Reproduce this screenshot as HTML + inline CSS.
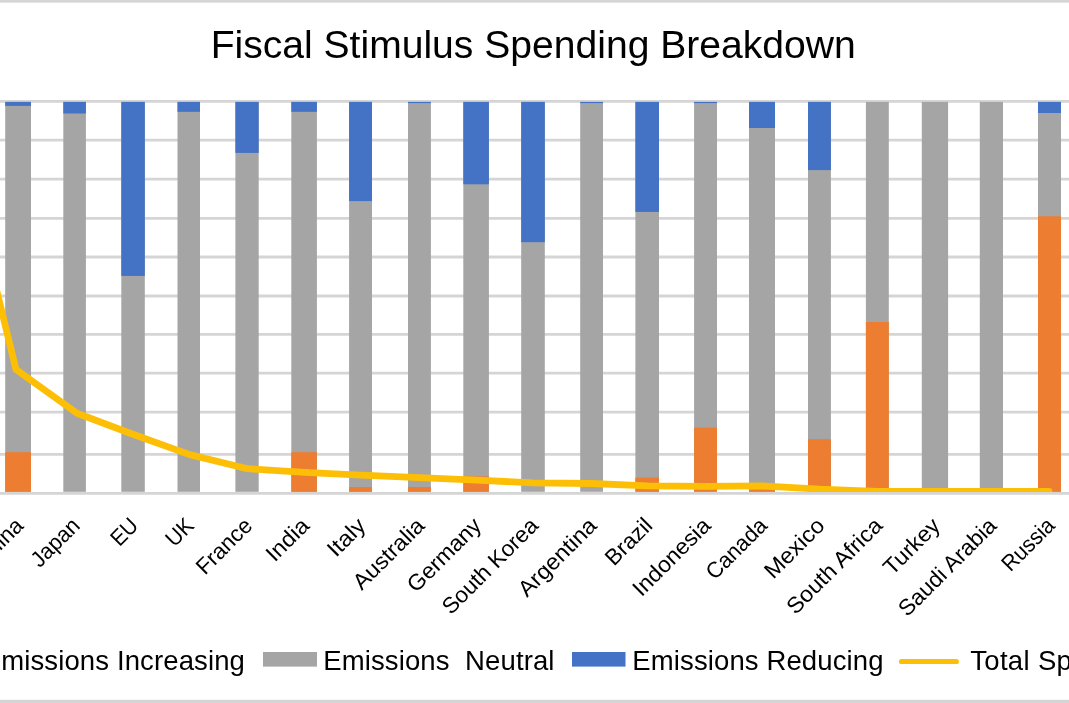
<!DOCTYPE html>
<html lang="en">
<head>
<meta charset="utf-8">
<title>Fiscal Stimulus Spending Breakdown</title>
<style>
html,body{margin:0;padding:0;background:#fff;}
body{width:1069px;height:703px;overflow:hidden;}
svg{display:block;}
text{font-family:"Liberation Sans",Arial,sans-serif;fill:#000;}
.title{font-size:39.1px;}
.leg{font-size:27.5px;letter-spacing:0.12px;}
.lab{font-size:22.4px;}
</style>
</head>
<body>
<svg width="1069" height="703" viewBox="0 0 1069 703">
<rect x="0" y="0" width="1069" height="703" fill="#ffffff"/>
<rect x="0" y="0" width="1069" height="2.6" fill="#d5d5d5"/>
<rect x="0" y="699.8" width="1069" height="3.2" fill="#d5d5d5"/>
<text class="title" x="533.2" y="57.6" text-anchor="middle">Fiscal Stimulus Spending Breakdown</text>
<g stroke="#d5d5d5" stroke-width="2.8" fill="none">
<line x1="0" y1="101.4" x2="1069" y2="101.4"/>
<line x1="0" y1="140.1" x2="1069" y2="140.1"/>
<line x1="0" y1="179.2" x2="1069" y2="179.2"/>
<line x1="0" y1="218.3" x2="1069" y2="218.3"/>
<line x1="0" y1="257.0" x2="1069" y2="257.0"/>
<line x1="0" y1="296.0" x2="1069" y2="296.0"/>
<line x1="0" y1="334.3" x2="1069" y2="334.3"/>
<line x1="0" y1="373.2" x2="1069" y2="373.2"/>
<line x1="0" y1="412.1" x2="1069" y2="412.1"/>
<line x1="0" y1="454.4" x2="1069" y2="454.4"/>
<line x1="0" y1="493.4" x2="1069" y2="493.4"/>
</g>
<g>
<rect x="5.2" y="101.9" width="25.8" height="389.9" fill="#a5a5a5"/><rect x="5.2" y="101.9" width="25.8" height="4.0" fill="#4472c4"/><rect x="5.2" y="452.2" width="25.8" height="39.6" fill="#ed7d31"/>
<rect x="63.3" y="101.9" width="22.6" height="389.9" fill="#a5a5a5"/><rect x="63.3" y="101.9" width="22.6" height="11.6" fill="#4472c4"/>
<rect x="121.3" y="101.9" width="23.5" height="389.9" fill="#a5a5a5"/><rect x="121.3" y="101.9" width="23.5" height="174.0" fill="#4472c4"/>
<rect x="177.5" y="101.9" width="22.5" height="389.9" fill="#a5a5a5"/><rect x="177.5" y="101.9" width="22.5" height="9.9" fill="#4472c4"/>
<rect x="235.4" y="101.9" width="23.3" height="389.9" fill="#a5a5a5"/><rect x="235.4" y="101.9" width="23.3" height="51.0" fill="#4472c4"/>
<rect x="291.3" y="101.9" width="25.6" height="389.9" fill="#a5a5a5"/><rect x="291.3" y="101.9" width="25.6" height="9.9" fill="#4472c4"/><rect x="291.3" y="452.2" width="25.6" height="39.6" fill="#ed7d31"/>
<rect x="349.1" y="101.9" width="22.9" height="389.9" fill="#a5a5a5"/><rect x="349.1" y="101.9" width="22.9" height="99.2" fill="#4472c4"/><rect x="349.1" y="487.0" width="22.9" height="4.8" fill="#ed7d31"/>
<rect x="408.0" y="101.9" width="22.9" height="389.9" fill="#a5a5a5"/><rect x="408.0" y="101.9" width="22.9" height="1.2" fill="#4472c4"/><rect x="408.0" y="487.0" width="22.9" height="4.8" fill="#ed7d31"/>
<rect x="463.3" y="101.9" width="25.6" height="389.9" fill="#a5a5a5"/><rect x="463.3" y="101.9" width="25.6" height="82.4" fill="#4472c4"/><rect x="463.3" y="476.3" width="25.6" height="15.5" fill="#ed7d31"/>
<rect x="521.2" y="101.9" width="23.6" height="389.9" fill="#a5a5a5"/><rect x="521.2" y="101.9" width="23.6" height="140.3" fill="#4472c4"/>
<rect x="580.2" y="101.9" width="22.8" height="389.9" fill="#a5a5a5"/><rect x="580.2" y="101.9" width="22.8" height="1.2" fill="#4472c4"/>
<rect x="635.4" y="101.9" width="23.6" height="389.9" fill="#a5a5a5"/><rect x="635.4" y="101.9" width="23.6" height="110.0" fill="#4472c4"/><rect x="635.4" y="477.6" width="23.6" height="14.2" fill="#ed7d31"/>
<rect x="694.1" y="101.9" width="22.9" height="389.9" fill="#a5a5a5"/><rect x="694.1" y="101.9" width="22.9" height="1.2" fill="#4472c4"/><rect x="694.1" y="427.6" width="22.9" height="64.2" fill="#ed7d31"/>
<rect x="749.0" y="101.9" width="26.0" height="389.9" fill="#a5a5a5"/><rect x="749.0" y="101.9" width="26.0" height="26.1" fill="#4472c4"/><rect x="749.0" y="490.0" width="26.0" height="1.8" fill="#ed7d31"/>
<rect x="808.0" y="101.9" width="22.9" height="389.9" fill="#a5a5a5"/><rect x="808.0" y="101.9" width="22.9" height="68.2" fill="#4472c4"/><rect x="808.0" y="439.2" width="22.9" height="52.6" fill="#ed7d31"/>
<rect x="865.9" y="101.9" width="22.9" height="389.9" fill="#a5a5a5"/><rect x="865.9" y="322.0" width="22.9" height="169.8" fill="#ed7d31"/>
<rect x="921.8" y="101.9" width="26.3" height="389.9" fill="#a5a5a5"/>
<rect x="979.8" y="101.9" width="23.2" height="389.9" fill="#a5a5a5"/><rect x="979.8" y="488.5" width="23.2" height="3.3" fill="#ed7d31"/>
<rect x="1038.0" y="101.9" width="23.0" height="389.9" fill="#a5a5a5"/><rect x="1038.0" y="101.9" width="23.0" height="11.1" fill="#4472c4"/><rect x="1038.0" y="216.3" width="23.0" height="275.5" fill="#ed7d31"/>
</g>
<defs><clipPath id="plot"><rect x="0" y="90" width="1069" height="402.1"/></clipPath></defs>
<polyline clip-path="url(#plot)" fill="none" stroke="#fdbf06" stroke-width="6.8" stroke-linejoin="round" stroke-linecap="round" points="-10.0,263.0 16.0,369.6 77.0,413.2 133.5,434.5 189.7,454.6 247.5,468.7 304.5,472.3 361.0,475.1 419.5,477.6 476.5,480.1 533.0,482.9 591.5,483.5 647.5,485.8 705.6,486.4 762.0,485.8 819.5,489.2 877.5,491.3 935.0,491.3 991.5,491.3 1049.0,491.3"/>
<g class="lab">
<text text-anchor="end" textLength="57.7" lengthAdjust="spacingAndGlyphs" transform="translate(24.6 527.0) rotate(-45)">China</text>
<text text-anchor="end" textLength="58.6" lengthAdjust="spacingAndGlyphs" transform="translate(81.1 527.0) rotate(-45)">Japan</text>
<text text-anchor="end" textLength="28.5" lengthAdjust="spacingAndGlyphs" transform="translate(139.6 527.0) rotate(-45)">EU</text>
<text text-anchor="end" textLength="29.3" lengthAdjust="spacingAndGlyphs" transform="translate(195.2 527.0) rotate(-45)">UK</text>
<text text-anchor="end" textLength="68.9" lengthAdjust="spacingAndGlyphs" transform="translate(253.6 527.0) rotate(-45)">France</text>
<text text-anchor="end" textLength="50.7" lengthAdjust="spacingAndGlyphs" transform="translate(310.6 527.0) rotate(-45)">India</text>
<text text-anchor="end" textLength="44.0" lengthAdjust="spacingAndGlyphs" transform="translate(367.1 527.0) rotate(-45)">Italy</text>
<text text-anchor="end" textLength="90.6" lengthAdjust="spacingAndGlyphs" transform="translate(425.9 527.0) rotate(-45)">Australia</text>
<text text-anchor="end" textLength="94.1" lengthAdjust="spacingAndGlyphs" transform="translate(482.6 527.0) rotate(-45)">Germany</text>
<text text-anchor="end" textLength="125.2" lengthAdjust="spacingAndGlyphs" transform="translate(539.5 527.0) rotate(-45)">South Korea</text>
<text text-anchor="end" textLength="100.5" lengthAdjust="spacingAndGlyphs" transform="translate(598.1 527.0) rotate(-45)">Argentina</text>
<text text-anchor="end" textLength="56.1" lengthAdjust="spacingAndGlyphs" transform="translate(653.7 527.0) rotate(-45)">Brazil</text>
<text text-anchor="end" textLength="99.6" lengthAdjust="spacingAndGlyphs" transform="translate(712.0 527.0) rotate(-45)">Indonesia</text>
<text text-anchor="end" textLength="76.1" lengthAdjust="spacingAndGlyphs" transform="translate(768.5 527.0) rotate(-45)">Canada</text>
<text text-anchor="end" textLength="74.7" lengthAdjust="spacingAndGlyphs" transform="translate(826.0 527.0) rotate(-45)">Mexico</text>
<text text-anchor="end" textLength="125.0" lengthAdjust="spacingAndGlyphs" transform="translate(883.8 527.0) rotate(-45)">South Africa</text>
<text text-anchor="end" textLength="69.7" lengthAdjust="spacingAndGlyphs" transform="translate(941.5 527.0) rotate(-45)">Turkey</text>
<text text-anchor="end" textLength="128.1" lengthAdjust="spacingAndGlyphs" transform="translate(997.9 527.0) rotate(-45)">Saudi Arabia</text>
<text text-anchor="end" textLength="64.5" lengthAdjust="spacingAndGlyphs" transform="translate(1056.0 527.0) rotate(-45)">Russia</text>
</g>
<g class="leg">
<text x="245" y="669.7" text-anchor="end">Emissions Increasing</text>
<rect x="263" y="652" width="54" height="14.6" fill="#a5a5a5"/>
<text x="323.2" y="669.7" xml:space="preserve">Emissions  Neutral</text>
<rect x="572" y="652" width="53.5" height="14.6" fill="#4472c4"/>
<text x="632.3" y="669.7">Emissions Reducing</text>
<line x1="901.5" y1="661.5" x2="956.3" y2="661.5" stroke="#fdbf06" stroke-width="5.2" stroke-linecap="round"/>
<text x="970.2" y="669.7" style="letter-spacing:0.33px">Total Spending</text>
</g>
</svg>
</body>
</html>
